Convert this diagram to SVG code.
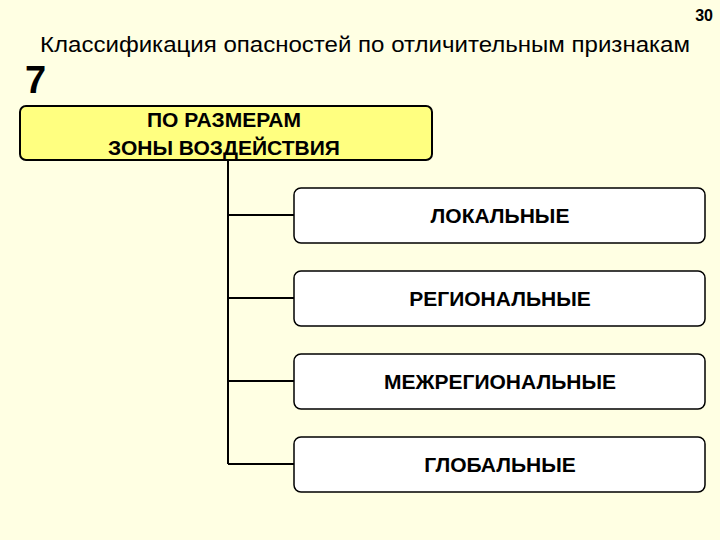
<svg xmlns="http://www.w3.org/2000/svg" width="720" height="540" viewBox="0 0 720 540">
<style>
.t{font-family:"Liberation Sans",Arial,sans-serif;fill:#000}
.b{font-weight:bold;font-size:21px;text-anchor:middle}
.box{fill:#fff;stroke:#000;stroke-width:1.5}
.ln{stroke:#000;stroke-width:2;fill:none}
</style>
<rect width="720" height="540" fill="#FFFFE3"/>
<text class="t" x="713" y="21" font-size="16" font-weight="bold" text-anchor="end">30</text>
<text class="t" x="40" y="52" font-size="22" textLength="650" lengthAdjust="spacingAndGlyphs">Классификация опасностей по отличительным признакам</text>
<text class="t" x="25" y="93" font-size="38" font-weight="bold">7</text>
<g id="connectors">
<path class="ln" d="M228 160V464M228 215H294M228 298H294M228 381H294M228 464H294"/>
</g>
<g id="root">
<rect x="20" y="106" width="412" height="54" rx="6" fill="#FFFF80" stroke="#000" stroke-width="2"/>
<text class="t b" x="224" y="127">ПО РАЗМЕРАМ</text>
<text class="t b" x="224" y="155">ЗОНЫ ВОЗДЕЙСТВИЯ</text>
</g>
<g id="n1"><rect class="box" x="294" y="188" width="411" height="55" rx="7"/><text class="t b" x="500" y="223">ЛОКАЛЬНЫЕ</text></g>
<g id="n2"><rect class="box" x="294" y="271" width="411" height="55" rx="7"/><text class="t b" x="500" y="306">РЕГИОНАЛЬНЫЕ</text></g>
<g id="n3"><rect class="box" x="294" y="354" width="411" height="55" rx="7"/><text class="t b" x="500" y="389">МЕЖРЕГИОНАЛЬНЫЕ</text></g>
<g id="n4"><rect class="box" x="294" y="437" width="411" height="55" rx="7"/><text class="t b" x="500" y="472">ГЛОБАЛЬНЫЕ</text></g>
</svg>
